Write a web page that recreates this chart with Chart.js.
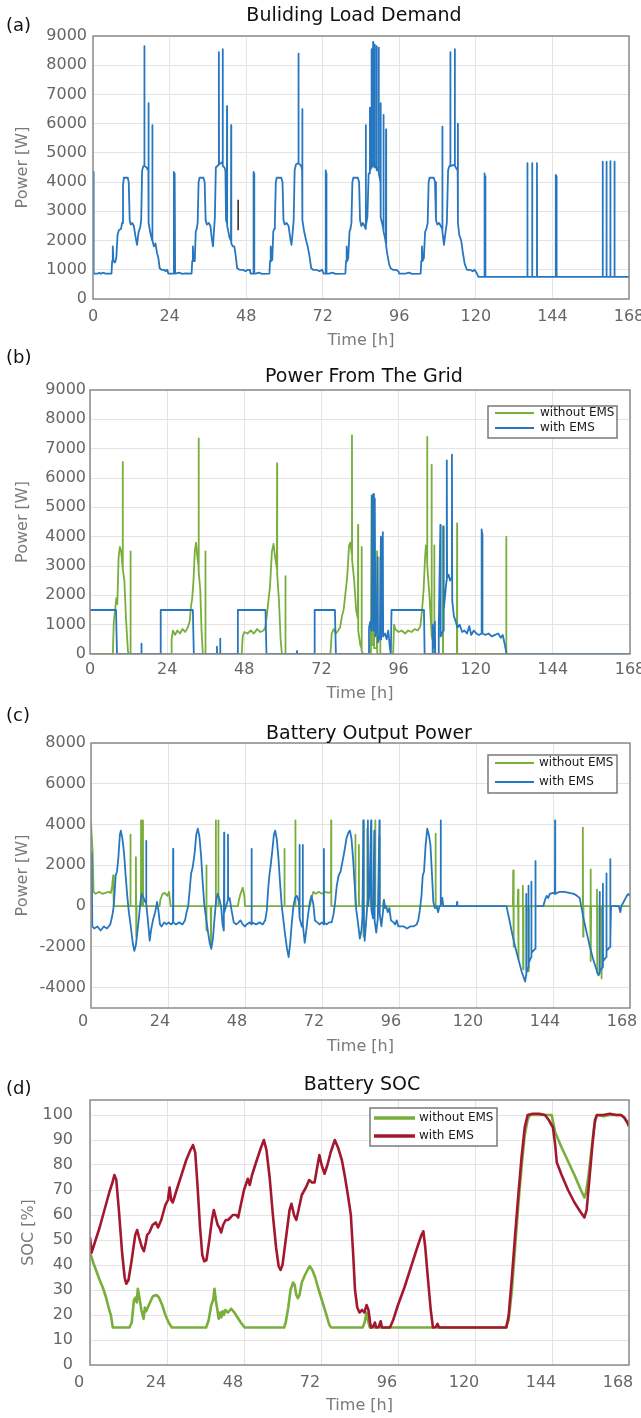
<!DOCTYPE html>
<html>
<head>
<meta charset="utf-8">
<script src="https://cdn.jsdelivr.net/npm/chart.js@4.4.1/dist/chart.umd.min.js"></script>
<style>
  body { margin: 0; background: #fff; width: 641px; height: 1418px; position: relative; overflow: hidden; font-family: "DejaVu Sans", sans-serif; }
  canvas { position: absolute; left: 0; }
  .lbl { position: absolute; left: 6px; font-size: 18px; line-height: 20px; color: #111; }
  .ttl { position: absolute; font-size: 19px; line-height: 20px; color: #111; white-space: nowrap; transform: translateX(-50%); }
</style>
</head>
<body>
<canvas id="chartA" width="680" height="344" style="top:6px"></canvas>
<canvas id="chartB" width="680" height="343" style="top:360px"></canvas>
<canvas id="chartC" width="680" height="343" style="top:713px"></canvas>
<canvas id="chartD" width="680" height="345" style="top:1070px"></canvas>

<div class="lbl" style="top:15px">(a)</div>
<div class="ttl" style="left:354px;top:4px">Buliding Load Demand</div>
<div class="lbl" style="top:347px">(b)</div>
<div class="ttl" style="left:364px;top:365px">Power From The Grid</div>
<div class="lbl" style="top:705px">(c)</div>
<div class="ttl" style="left:369px;top:722px">Battery Output Power</div>
<div class="lbl" style="top:1078px">(d)</div>
<div class="ttl" style="left:362px;top:1073px">Battery SOC</div>

<script>
// ---- values, as [hour, value] pairs ----
const timeTicks = [0, 24, 48, 72, 96, 120, 144, 168];
const powerTicks = [0, 1000, 2000, 3000, 4000, 5000, 6000, 7000, 8000, 9000];
const battTicks = [-4000, -2000, 0, 2000, 4000, 6000, 8000];
const socTicks = [0, 10, 20, 30, 40, 50, 60, 70, 80, 90, 100];
const seriesNames = ["without EMS", "with EMS"];

// (a) building load demand [W]
const loadDemand = [
  [0,4350],[0.1,4200],[0.2,4300],[0.3,870],[1.5,870],[2,900],[2.5,860],[3,900],[4,870],[5.8,870],
  [6.0,1300],[6.2,1800],[6.4,1300],[6.9,1250],[7.3,1400],[7.7,2200],[8.1,2350],[8.8,2400],[9.1,2600],[9.4,3900],
  [9.7,4150],[10.9,4150],[11.2,4000],[11.5,2700],[11.8,2550],[12.3,2600],[12.8,2500],[13.3,2150],[13.8,1850],[14.3,2300],
  [14.8,2450],[15.1,2700],[15.4,4400],[15.8,4550],[16.05,4550],[16.1,8650],[16.15,4550],[16.8,4500],[17.35,4400],[17.4,6700],
  [17.45,2600],[17.9,2300],[18.55,2000],[18.6,5950],[18.65,2000],[19.1,1800],[19.6,1900],[20,1600],[20.5,1400],[20.9,1050],
  [21.5,1000],[22.3,1000],[22.8,950],[23.3,1000],[23.6,870],[25.3,870],[25.35,4350],[25.45,4250],[25.5,870],[25.6,4300],
  [25.7,4250],[25.75,870],
  [26,870],[27,900],[28,860],[29,880],[30.9,870],[31.1,1300],[31.3,1800],[31.5,1300],[31.9,1300],[32.2,2300],
  [32.5,2400],[32.8,2600],[33.1,4000],[33.4,4150],[34.6,4150],[35,4000],[35.3,2700],[35.7,2550],[36.3,2600],[36.8,2500],
  [37.2,2100],[37.6,1800],[37.9,2300],[38.2,2800],[38.5,4500],[39.4,4600],[39.45,8450],[39.5,4600],[40.6,4700],[40.65,8550],
  [40.7,4550],[41.2,4500],[41.5,4400],[41.7,2700],[41.95,2600],[42,6600],[42.05,2500],[42.8,2100],[43.25,2000],[43.3,5950],
  [43.35,1900],[43.8,1800],[44.3,1800],[44.7,1500],[45.2,1050],[46,1000],[47,1000],[47.8,950],[48.5,1000],[49.2,1000],
  [49.4,870],[50.2,870],[50.25,4350],[50.35,4300],[50.4,870],[50.5,4300],[50.55,870],
  [51,870],[52,900],[53,860],[55.3,870],[55.5,1300],[55.7,1800],[55.9,1300],[56.2,1350],[56.5,2300],[56.8,2400],
  [57,2600],[57.3,4000],[57.6,4150],[59,4150],[59.4,4000],[59.7,2700],[60.1,2550],[60.7,2600],[61.3,2500],[61.8,2100],
  [62.2,1850],[62.6,2300],[62.9,2700],[63.2,4400],[63.6,4600],[64.35,4650],[64.4,8400],[64.45,4650],[65.3,4550],[65.55,4400],
  [65.6,6500],[65.65,2700],[66.2,2300],[66.8,2000],[67.3,1800],[67.8,1500],[68.4,1050],[69,1000],[70,1000],[71,950],
  [71.8,1000],[72.3,870],[72.9,870],[72.95,4400],[73.05,4300],[73.1,870],[73.2,4300],[73.25,870],
  [74,870],[75,900],[76,860],[79.1,870],[79.3,1300],[79.5,1800],[79.7,1300],[80,1400],[80.4,2300],[80.7,2400],
  [81,2600],[81.3,4000],[81.6,4150],[83,4150],[83.4,4000],[83.7,2700],[84.1,2500],[84.6,2600],[85.1,2500],[85.45,2400],
  [85.5,5950],[85.55,2500],[86,2800],[86.4,4300],[86.75,4300],[86.8,6550],[86.85,4400],[87.25,4500],[87.3,8550],[87.35,4500],
  [87.75,4600],[87.8,8800],[87.85,4600],[88.25,4500],[88.3,8700],[88.35,4500],[88.85,4600],[88.9,8650],[88.95,4400],[89.5,4500],
  [89.55,8600],[89.6,4300],[90.1,4000],[90.15,6700],[90.2,2800],[90.6,2600],[91.0,2400],[91.05,6300],[91.1,2300],[91.5,2100],
  [91.8,1900],[91.85,5800],[91.9,1800],[92.3,1500],[92.8,1200],[93.3,1050],[94,1000],[95,1000],[95.7,950],[96,870],
  [98,870],[99,900],[100,860],[102.7,870],[102.9,1300],[103.1,1800],[103.3,1300],[103.7,1400],[104.1,2300],[104.5,2400],
  [104.9,2600],[105.2,4000],[105.5,4150],[106.8,4150],[107.2,4000],[107.5,2700],[107.9,2550],[108.5,2600],[109.2,2450],[109.45,2400],
  [109.5,5900],[109.55,2300],[110,1850],[110.5,2300],[110.9,2600],[111.3,4400],[111.7,4550],[111.95,4550],[112,8450],[112.05,4550],
  [113.35,4600],[113.4,8550],[113.45,4550],[114.3,4400],[114.35,6000],[114.4,2600],[114.8,2200],[115.4,2000],[115.9,1600],[116.5,1200],
  [117.2,1000],[118.2,1000],[119,950],[119.6,1000],[120.2,900],[120.8,760],
  [122.6,760],[122.65,4300],[122.75,4200],[122.8,760],[122.95,4200],[123.0,760],[136.1,760],[136.15,4650],[136.2,760],[137.6,760],
  [137.65,4650],[137.7,760],[139.1,760],[139.15,4650],[139.2,760],[145.0,760],[145.05,4250],[145.15,4200],[145.2,760],[145.35,4150],
  [145.4,760],[159.7,760],[159.75,4700],[159.8,760],[160.9,760],[160.95,4700],[161.0,760],[162.1,760],[162.15,4720],[162.2,760],
  [163.4,760],[163.45,4700],[163.5,760],[168,760]
];
const loadMarker = [[45.5,2350],[45.5,3400]];

// (b) power from the grid [W]
const gridNoEms = [
  [0,0],[7.1,0],[7.4,1100],[7.8,1500],[8.2,1900],[8.5,1700],[8.9,3300],[9.3,3650],[9.7,3500],[10.1,3000],
  [10.15,3000],[10.2,6550],[10.25,2900],[10.7,2500],[11.2,1200],[11.8,100],[12.0,0],[12.55,0],[12.6,3500],[12.65,0],
  [25.2,0],[25.4,500],[25.8,800],[26.5,650],[27.2,800],[28,700],[28.8,850],[29.6,750],[30.4,900],[31,1100],
  [31.4,1600],[31.8,1900],[32.2,2500],[32.6,3500],[33,3800],[33.4,3300],[33.75,3000],[33.8,7350],[33.85,2800],[34.3,2200],
  [34.7,800],[35.1,0],[35.85,0],[35.9,3500],[35.95,0],
  [47.2,0],[47.5,600],[48,750],[49,700],[50,800],[51,700],[52,850],[53,750],[54,800],[54.5,900],
  [55,1300],[55.5,1800],[56,2300],[56.6,3500],[57.1,3750],[57.6,3300],[58.15,2900],[58.2,6500],[58.25,2700],[58.8,1800],
  [59.3,500],[59.7,0],[60.75,0],[60.8,2650],[60.85,0],
  [74.8,0],[75.2,700],[75.8,850],[76.5,700],[77.2,800],[77.8,900],[78.4,1300],[78.9,1500],[79.4,2000],[80,2600],
  [80.6,3700],[81,3800],[81.45,3400],[81.5,7450],[81.55,3200],[82.2,2500],[82.8,1500],[83.35,1200],[83.4,4400],[83.45,800],
  [84.1,300],[84.45,200],[84.5,3650],[84.55,100],[85,0],[87.3,0],[87.4,1000],[87.6,5400],[87.7,300],[88.2,300],
  [88.3,5450],[88.4,200],[89.25,200],[89.3,3500],[89.35,0],[90.25,0],[90.3,3300],[90.35,0],
  [94.3,0],[94.6,1000],[95,850],[96,750],[97,800],[98,700],[99,800],[100,750],[101,850],[102,800],
  [102.8,950],[103.3,1500],[103.8,2200],[104.2,3200],[104.5,3700],[104.85,3400],[104.9,7400],[104.95,3000],[105.6,2000],[106.2,800],
  [106.25,800],[106.3,6450],[106.35,600],[107,300],[107.05,300],[107.1,3700],[107.15,0],[109.75,0],[109.8,4350],[109.85,0],
  [114.15,0],[114.2,4450],[114.25,0],[129.45,0],[129.5,4000],[129.55,0],[168,0]
];
const gridEms = [
  [0,1500],[8.1,1500],[8.4,0],[15.95,0],[16,350],[16.05,0],[21.9,0],[22,1500],[32,1500],[32.3,0],
  [39.45,0],[39.5,250],[39.55,0],[40.45,0],[40.5,520],[40.55,0],[45.9,0],[46,1500],[54.6,1500],[54.9,0],
  [64.35,0],[64.4,100],[64.45,0],[69.8,0],[69.9,1500],[76.2,1500],[76.5,0],
  [86.6,0],[86.8,900],[87.2,1100],[87.5,800],[87.7,5400],[87.9,1000],[88.1,5450],[88.3,800],[88.6,5300],[88.8,600],
  [89.2,800],[89.5,3300],[89.6,400],[90.2,600],[90.5,4000],[90.6,500],[91.1,4150],[91.2,600],[91.8,700],[92.3,500],
  [92.8,800],[93.3,200],[93.6,0],[93.8,1500],[103.9,1500],[104.1,0],[106.4,0],[106.6,1000],[106.8,200],[107.3,1100],
  [107.4,0],[108.3,0],[108.5,900],[109.0,4400],[109.1,600],[109.9,800],[110.0,4350],[110.1,1500],[110.9,2500],[111.0,6600],
  [111.1,2600],[111.6,2700],[112.0,2500],[112.5,2600],[112.6,6800],[112.7,1800],[113.2,1300],[113.8,1100],[114.3,900],[115,1000],
  [115.8,750],[116.5,800],[117.3,700],[118,950],[118.6,650],[119.4,800],[120.2,700],[121,650],[121.8,700],[121.85,4250],
  [122.0,4100],[122.1,700],[123,650],[124,700],[125,600],[126,650],[127,700],[127.8,550],[128.4,650],[129,350],
  [129.6,0],[168,0]
];

// (c) battery output power [W]
const battNoEms = [
  [0,4100],[0.3,4100],[0.5,2700],[0.8,700],[1.5,600],[2.5,700],[3.5,600],[4.5,650],[5.5,700],[6.2,650],
  [6.6,1000],[6.9,1500],[7.1,0],[12.25,0],[12.3,3500],[12.35,0],[13.95,0],[14.0,2400],[14.1,-1500],[14.2,0],
  [15.55,0],[15.6,4200],[15.65,0],[16.15,0],[16.2,4200],[16.25,0],[21.4,0],[21.6,300],[22.3,600],[23,650],
  [23.8,500],[24.3,700],[24.6,300],[24.8,0],
  [35.85,0],[35.9,2000],[36.0,-1200],[36.1,0],[37.3,0],[37.4,-1900],[37.5,0],[38.85,0],[38.9,4200],[38.95,0],
  [39.65,0],[39.7,4200],[39.75,0],[45.8,0],[46.1,300],[46.6,600],[47.3,900],[47.8,500],[48.0,0],
  [60.25,0],[60.3,2800],[60.35,0],[63.65,0],[63.7,4200],[63.75,0],[68.3,0],[68.6,300],[69.3,700],[70.1,600],
  [71,700],[72,600],[73,700],[74,650],[74.8,700],[74.85,4200],[74.9,0],
  [82.35,0],[82.4,3500],[82.45,0],[83.45,0],[83.5,3000],[83.55,0],[84.85,0],[84.9,4200],[85.0,-1500],[85.1,0],
  [86.05,0],[86.1,3800],[86.15,0],[87.25,0],[87.3,3500],[87.35,0],[88.55,0],[88.6,4200],[88.65,0],[89.85,0],
  [89.9,3400],[89.95,0],[91,0],[91.3,300],[91.6,0],
  [107.35,0],[107.4,3550],[107.45,0],
  [131.5,0],[131.6,1750],[131.7,-2000],[131.8,0],[133.0,0],[133.1,800],[133.2,-2600],[133.3,0],[134.5,0],[134.6,1000],
  [134.7,-3100],[134.8,0],[136.3,0],[136.4,-3200],[136.5,0],
  [153.2,0],[153.3,3850],[153.4,-1500],[153.5,0],[155.6,0],[155.7,1800],[155.8,-2700],[155.9,0],[157.6,0],[157.7,800],
  [157.8,-3300],[157.9,0],[159.0,0],[159.1,-3550],[159.2,0],[168,0]
];
const battEms = [
  [0,2600],[0.2,2500],[0.4,-1000],[1,-1100],[2,-1000],[3,-1200],[4,-1000],[5,-1100],[6,-900],[6.6,-500],
  [7,-100],[7.3,500],[7.7,1500],[8.1,1700],[8.5,2300],[9,3500],[9.3,3700],[9.8,3300],[10.3,2600],[10.8,1500],
  [11.3,500],[11.8,-300],[12.4,-1000],[13,-1800],[13.5,-2200],[14,-1900],[14.5,-1200],[15,-500],[15.4,200],[15.8,600],
  [16.4,400],[16.9,200],[17.15,200],[17.2,3200],[17.25,100],[17.8,-800],[18.3,-1700],[18.7,-1200],[19.3,-700],[20,-300],
  [20.6,200],[21,-200],[21.5,-900],[22,-1000],[22.8,-800],[23.5,-900],[24.2,-800],[25,-900],[25.55,-800],[25.6,2800],
  [25.65,-800],[26.5,-900],[27.5,-800],[28.5,-900],[29.3,-700],[29.8,-300],[30.3,0],[30.7,700],[31.2,1600],[31.7,1900],
  [32.3,2600],[32.8,3500],[33.3,3800],[33.8,3400],[34.3,2500],[34.8,1200],[35.3,100],[35.8,-500],[36.4,-1200],[37,-1800],
  [37.5,-2100],[38,-1600],[38.5,-600],[39,300],[39.5,600],[40.1,300],[40.6,-100],[41,-900],[41.4,-1200],[41.45,-1200],
  [41.5,3600],[41.55,-300],[42.3,100],[42.65,300],[42.7,3500],[42.75,300],[43.2,400],[43.8,-200],[44.5,-800],[45.3,-900],
  [46,-800],[46.6,-700],[47.3,-900],[48,-1000],[48.5,-900],[49.5,-800],[50.0,-900],[50.05,2800],[50.1,-800],[51.5,-900],
  [52.5,-800],[53.5,-900],[54.3,-700],[54.8,-200],[55.2,800],[55.6,1500],[56,2000],[56.5,2700],[57,3500],[57.4,3700],
  [57.9,3300],[58.4,2400],[58.9,1200],[59.4,100],[59.9,-600],[60.5,-1400],[61.1,-2100],[61.6,-2500],[62.1,-1800],[62.6,-800],
  [63.1,0],[63.6,400],[64.2,500],[64.8,200],[64.95,-400],[65,3000],[65.05,-600],[65.7,-1000],[65.95,-900],[66,3000],
  [66.05,-900],[66.6,-1800],[67.1,-1200],[67.6,-500],[68.2,200],[68.7,500],[69.3,100],[69.8,-700],[70.5,-800],[71.3,-900],
  [72,-800],[72.55,-900],[72.6,2800],[72.65,-800],[73.4,-900],[74.2,-800],[75,-800],[75.6,-400],[76.1,200],[76.6,1000],
  [77.2,1500],[77.8,1700],[78.4,2200],[79,2700],[79.6,3300],[80.2,3600],[80.7,3700],[81.2,3300],[81.7,2300],[82.2,1000],
  [82.7,-200],[83.2,-800],[83.8,-1600],[84.3,-1200],[84.6,-500],[84.9,4200],[85.0,-500],[85.3,-1700],[85.7,-900],[86.2,200],
  [86.3,4200],[86.4,0],[86.8,600],[87.3,4200],[87.4,-200],[87.9,-600],[88.3,3700],[88.4,-700],[88.9,-1300],[89.4,-600],
  [89.9,4200],[90.0,-400],[90.5,-1000],[91,-300],[91.3,300],[91.6,-100],[92,0],[92.5,-300],[93,-100],[93.5,-700],
  [94.3,-800],[94.8,-900],[95.3,-700],[95.8,-1000],[96.5,-1000],[97.5,-1000],[98.5,-1100],[99.5,-1000],[100.5,-1000],[101.5,-900],
  [102,-700],[102.5,-200],[103,500],[103.4,1500],[103.8,1700],[104.3,3000],[104.8,3800],[105.3,3500],[105.8,3000],[106.3,1500],
  [106.7,200],[107.2,-100],[107.7,0],[108.2,-300],[108.6,0],[108.95,0],[109,4200],[109.05,0],[109.5,400],[109.8,0],
  [114,0],[114.1,200],[114.2,0],[129.5,0],[130.3,-600],[131.2,-1300],[132.2,-2000],[133.2,-2600],[134.2,-3200],[135.3,-3700],
  [135.6,-3400],[135.65,600],[135.7,-3300],[136.3,-3000],[136.35,1000],[136.4,-2800],[137.2,-2500],[137.25,1200],[137.3,-2300],[138.4,-2100],
  [138.45,2200],[138.5,-1800],[138.7,0],[141,0],[141.5,300],[142,500],[142.5,400],[143,600],[144,650],[144.6,600],
  [144.65,4200],[144.7,600],[146,700],[147.5,700],[149,650],[150.5,600],[151.5,500],[152.3,400],[152.8,0],[153.5,-600],
  [154.5,-1300],[155.5,-2000],[156.5,-2600],[157.5,-3100],[158.2,-3400],[158.5,-3300],[158.55,700],[158.6,-3200],[159.5,-3000],[159.55,1100],
  [159.6,-2700],[160.6,-2500],[160.65,1600],[160.7,-2200],[161.8,-2000],[161.85,2300],[161.9,-1600],[162.1,0],[164.5,0],[165,-300],
  [165.3,0],[166,200],[167,500],[167.5,600],[168,500]
];

// (d) battery state of charge [%]
const socNoEms = [
  [0,45],[1,41],[2,37.5],[3,34],[4,31],[5,27],[6,22],[6.5,20],[7.1,15],[12.3,15],
  [13,17],[13.7,26],[14.2,27],[14.6,25],[14.9,30.5],[15.4,27],[16,22],[16.7,18.5],[17.1,23],[17.5,21.5],
  [18,23],[18.7,25],[19.6,27.5],[20.7,28],[21.5,27],[22.5,24],[23.5,20],[24.5,17],[25.5,15],[36.2,15],
  [37,18],[37.8,24],[38.4,26],[38.8,30.5],[39.2,26],[39.7,22],[40.1,18.5],[40.5,21],[40.9,19],[41.3,21.5],
  [41.7,20],[42.2,22],[43,21],[44,22.5],[45,21],[46,19],[47,17],[48.2,15],[60.5,15],[61,17],
  [61.8,23],[62.5,30],[63.3,33],[63.8,32],[64.3,28],[64.8,26.7],[65.3,28],[66,33],[67,36],[68,38.5],
  [68.5,39.5],[69.3,38],[70.2,35],[71.3,30],[72.5,25],[73.7,20],[74.6,16],[75.2,15],[85,15],[85.6,17],
  [86.2,21],[86.6,18],[87.2,15],[107,15],[129.5,15],[130.5,18],[131.5,30],[132.5,47],[133.5,64],[134.5,79],
  [135.5,92],[136.4,98],[137.1,100],[140,100],[143.9,100],[145,93],[147,87],[149,81.5],[151,76],[153,70],
  [154.1,67],[154.6,69],[155.4,76],[156.2,85],[157.2,96],[158,100],[160,99.5],[162,100],[164,100],[165.5,100],
  [166.5,99],[167.5,97],[168,95.5]
];
const socEms = [
  [0,51],[0.5,45],[1.5,49],[3,55],[4.5,62],[6,69],[7,73],[7.6,76],[8.2,74],[9,62],
  [10,45],[10.8,35],[11.3,32.5],[12,34],[13,42],[14.1,52],[14.7,54],[15.3,51],[16.2,47],[16.8,45.5],
  [17.4,49],[17.8,52],[18.5,53],[19.5,56],[20.5,57],[21.2,55],[22.2,58],[23.5,64],[24.3,66],[24.8,71],
  [25.3,66],[25.8,65],[27,70],[28.5,76],[30,82],[31.3,86],[32.1,88],[32.8,85],[33.5,72],[34.3,55],
  [35,44],[35.6,41.5],[36.3,42],[37.2,50],[38,58],[38.6,62],[39.2,59],[39.8,56],[40.3,55],[40.9,53],
  [41.5,56],[42.3,58],[43,58],[43.8,59],[44.5,60],[45.6,60],[46.2,59],[47,64],[48,70],[49.2,74.5],
  [49.8,72],[50.5,76],[52,82],[53.3,87],[54.2,90],[55,86],[56,75],[57,60],[58,47],[58.8,39.5],
  [59.4,38],[60,40],[61,50],[62.2,62],[62.8,64.5],[63.6,60],[64.3,58],[65,62],[66,68],[67.3,71],
  [68.3,74],[69.2,73],[70,73],[70.8,79],[71.5,84],[72.2,80],[73.1,76.5],[74,80],[75,85],[76.3,90],
  [77.3,87],[78.5,82],[79.5,75],[80.5,67],[81.3,60],[82,45],[82.6,30],[83.3,23],[84,21],[84.8,22],
  [85.5,21],[86.2,24],[86.8,22],[87.3,17],[87.6,15],[88.3,15.5],[88.8,17],[89.2,15],[90,15.2],[90.6,17.5],
  [91,15],[92,15],[93.5,15],[94.5,18],[96,24],[98,31],[100,39],[102,47],[103.3,52],[103.9,53.5],
  [104.5,47],[105.3,35],[106.2,22],[106.9,15],[107.8,15.2],[108.3,16.5],[108.8,15],[112,15],[116,15],[120,15],
  [124,15],[128,15],[129.8,15],[130.5,20],[131.5,35],[132.5,52],[133.5,68],[134.5,83],[135.5,95],[136.4,100],
  [138,100.5],[140,100.5],[141.8,100],[143,98],[144.3,95],[145,88],[145.5,81],[147,76],[149,70],[151,65],
  [153,61],[154.1,59],[154.8,62],[155.7,75],[156.6,88],[157.4,98],[158,100],[160,100],[162,100.5],[164,100],
  [165.5,100],[166.5,99],[167.5,97],[168,95.5]
];

// ---- styling ----
const BLUE = "#2777c0";
const GREEN = "#79ae3c";
const RED = "#a3182f";
const FONT = '"DejaVu Sans", sans-serif';
const TOP_PAD = 30; // canvas top sits this far above the plot box

Chart.defaults.font.family = FONT;

function lineSet(pairs, color, width, order) {
  return {
    data: pairs.map(p => ({ x: p[0], y: p[1] })),
    borderColor: color,
    borderWidth: width,
    pointRadius: 0,
    tension: 0,
    fill: false,
    order: order,
    borderJoinStyle: "round"
  };
}

// plot box (MATLAB style, all four sides) and the legend
const framePlugin = {
  id: "frame",
  afterDatasetsDraw(chart, args, opts) {
    const { ctx, chartArea: a } = chart;
    ctx.save();
    ctx.strokeStyle = "#8c8c8c";
    ctx.lineWidth = 1.5;
    ctx.strokeRect(a.left, a.top, a.right - a.left, a.bottom - a.top);
    const lg = opts.legend;
    if (lg) {
      ctx.fillStyle = "#fff";
      ctx.fillRect(lg.x, lg.y, lg.w, lg.h);
      ctx.strokeStyle = "#7a7a7a";
      ctx.lineWidth = 1.5;
      ctx.strokeRect(lg.x, lg.y, lg.w, lg.h);
      ctx.font = "12px " + FONT;
      ctx.textBaseline = "middle";
      lg.rows.forEach(r => {
        ctx.strokeStyle = r.color;
        ctx.lineWidth = lg.lw;
        ctx.beginPath();
        ctx.moveTo(lg.lx0, r.y);
        ctx.lineTo(lg.lx1, r.y);
        ctx.stroke();
        ctx.fillStyle = "#1a1a1a";
        ctx.fillText(r.text, lg.tx, r.y);
      });
    }
    ctx.restore();
  }
};

function makePanel(id, p) {
  const canvas = document.getElementById(id);
  return new Chart(canvas, {
    type: "line",
    data: { datasets: p.datasets },
    plugins: [framePlugin],
    options: {
      responsive: false,
      animation: false,
      events: [],
      layout: { padding: { left: 0, right: canvas.width - p.right, top: TOP_PAD, bottom: 0 } },
      plugins: {
        legend: { display: false },
        tooltip: { enabled: false },
        frame: { legend: p.legend }
      },
      scales: {
        x: {
          type: "linear",
          min: 0,
          max: 168,
          afterBuildTicks: s => { s.ticks = timeTicks.map(v => ({ value: v })); },
          afterFit: s => { s.height = p.xh; },
          ticks: { color: "#666", font: { size: 16 }, padding: p.xpad, maxRotation: 0, autoSkip: false,
                   labelOffset: p.xoff || 0, callback: v => String(v) },
          grid: { color: "#e4e4e4", drawTicks: false },
          border: { display: false },
          title: { display: true, text: "Time [h]", color: "#7a7a7a", font: { size: 16 }, padding: { top: 0, bottom: 0 } }
        },
        y: {
          min: p.ymin,
          max: p.ymax,
          afterBuildTicks: s => { s.ticks = p.yticks.map(v => ({ value: v })); },
          afterFit: s => { s.width = p.left; },
          ticks: { color: "#666", font: { size: 16 }, padding: p.ypad, callback: v => String(v) },
          grid: { color: "#e4e4e4", drawTicks: false },
          border: { display: false },
          title: { display: true, text: p.ytitle, color: "#7a7a7a", font: { size: 16 }, padding: { top: p.ytpad, bottom: 0 } }
        }
      }
    }
  });
}

// (a)
makePanel("chartA", {
  datasets: [
    lineSet(loadMarker, "#333", 1.6, 0),
    lineSet(loadDemand, BLUE, 1.8, 1)
  ],
  left: 93, right: 629, xh: 51, xpad: 8, ypad: 6, ytpad: 13,
  ymin: 0, ymax: 9000, yticks: powerTicks, ytitle: "Power [W]"
});

// (b)
makePanel("chartB", {
  datasets: [
    lineSet(gridEms, BLUE, 1.8, 0),
    lineSet(gridNoEms, GREEN, 1.8, 1)
  ],
  left: 90, right: 630, xh: 49, xpad: 6, ypad: 4, ytpad: 13,
  ymin: 0, ymax: 9000, yticks: powerTicks, ytitle: "Power [W]",
  legend: {
    x: 488, y: 46, w: 129, h: 32, lw: 2, lx0: 495, lx1: 534, tx: 540,
    rows: [{ text: seriesNames[0], color: GREEN, y: 53 }, { text: seriesNames[1], color: BLUE, y: 68 }]
  }
});

// (c)
makePanel("chartC", {
  datasets: [
    lineSet(battEms, BLUE, 1.8, 0),
    lineSet(battNoEms, GREEN, 1.8, 1)
  ],
  left: 91, right: 630, xh: 48, xpad: 4, ypad: 5, ytpad: 13, xoff: -8,
  ymin: -5000, ymax: 8000, yticks: battTicks, ytitle: "Power [W]",
  legend: {
    x: 488, y: 42, w: 129, h: 38, lw: 2, lx0: 495, lx1: 534, tx: 539,
    rows: [{ text: seriesNames[0], color: GREEN, y: 50 }, { text: seriesNames[1], color: BLUE, y: 69 }]
  }
});

// (d)
makePanel("chartD", {
  datasets: [
    lineSet(socEms, RED, 2.6, 0),
    lineSet(socNoEms, GREEN, 2.6, 1)
  ],
  left: 90, right: 629, xh: 50, xpad: 8, ypad: 17, ytpad: 19, xoff: -11,
  ymin: 0, ymax: 106, yticks: socTicks, ytitle: "SOC [%]",
  legend: {
    x: 370, y: 38, w: 127, h: 38, lw: 3.5, lx0: 374, lx1: 415, tx: 419,
    rows: [{ text: seriesNames[0], color: GREEN, y: 48 }, { text: seriesNames[1], color: RED, y: 66 }]
  }
});
</script>
</body>
</html>
